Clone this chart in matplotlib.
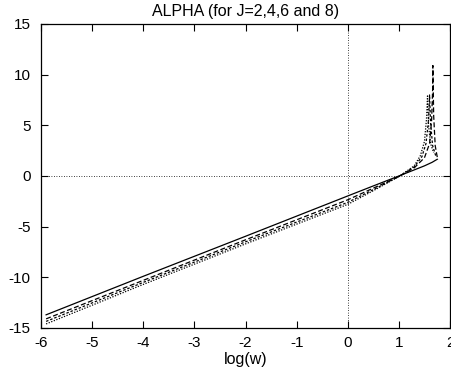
import matplotlib
matplotlib.use("Agg")
import matplotlib.pyplot as plt

plt.rcParams["font.family"] = ["Liberation Sans", "DejaVu Sans"]
plt.rcParams["axes.unicode_minus"] = False

# log(w) vs ALPHA
x_j2 = [-5.9, -4.0, -2.0, 0.0, 0.5, 1.0, 1.3, 1.5, 1.65, 1.75]
y_j2 = [-13.7, -9.9, -5.95, -1.97, -0.98, 0.0, 0.6, 1.0, 1.35, 1.65]

x_j4 = [-5.9, -4.0, -2.0, 0.0, 0.5, 1.0, 1.3, 1.5, 1.6, 1.64, 1.66, 1.665, 1.68, 1.71, 1.76]
y_j4 = [-14.1, -10.3, -6.3, -2.35, -1.2, -0.05, 0.8, 1.8, 3.2, 5.5, 8.5, 10.9, 6.0, 3.0, 1.6]

x_j6 = [-5.9, -4.0, -2.0, 0.0, 0.5, 1.0, 1.3, 1.45, 1.53, 1.58, 1.6, 1.62, 1.66, 1.72]
y_j6 = [-14.35, -10.5, -6.5, -2.6, -1.35, -0.05, 0.9, 1.9, 3.2, 5.5, 8.0, 5.2, 3.0, 2.0]

x_j8 = [-5.9, -4.0, -2.0, 0.0, 0.5, 1.0, 1.3, 1.42, 1.5, 1.54, 1.56, 1.58, 1.62, 1.68]
y_j8 = [-14.6, -10.7, -6.7, -2.8, -1.45, -0.05, 1.0, 2.0, 3.4, 5.6, 7.9, 5.0, 3.2, 2.3]

fig = plt.figure(figsize=(4.52, 3.79), dpi=100)
ax = fig.add_axes([0.0907, 0.1346, 0.9049, 0.8021])

ax.axhline(0, color="black", lw=0.6, ls=(0, (1, 2)))
ax.axvline(0, color="black", lw=0.6, ls=(0, (1, 2)))

ax.plot(x_j2, y_j2, color="black", lw=0.9, ls="-")
ax.plot(x_j4, y_j4, color="black", lw=0.9, ls=(0, (4, 2)))
ax.plot(x_j6, y_j6, color="black", lw=0.9, ls=(0, (2, 1.5)))
ax.plot(x_j8, y_j8, color="black", lw=0.9, ls=(0, (1, 1.2)))

ax.set_xlim(-6, 2)
ax.set_ylim(-15, 15)
ax.set_xticks(range(-6, 3))
ax.set_yticks(range(-15, 16, 5))
ax.tick_params(direction="in", top=True, right=True, length=5, width=0.8,
               labelsize=11)
ax.tick_params(axis="x", pad=6)
ax.tick_params(axis="y", pad=7.5)
for s in ax.spines.values():
    s.set_linewidth(0.9)

ax.set_title("ALPHA (for J=2,4,6 and 8)", fontsize=11.5, pad=6)
ax.set_xlabel("log(w)", fontsize=11.5, labelpad=1)

fig.savefig("out.png", dpi=100)
